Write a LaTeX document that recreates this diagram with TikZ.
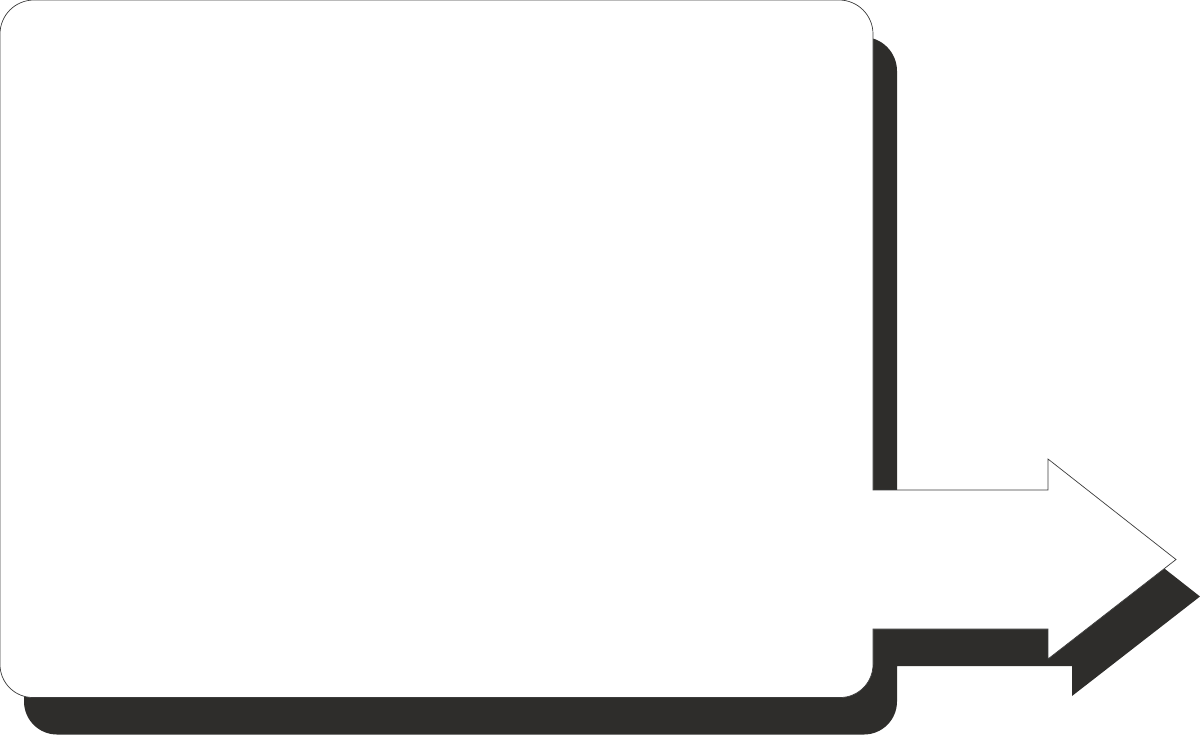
\documentclass[tikz,border=0pt]{standalone}
\definecolor{shadowcol}{RGB}{46,45,43}
\definecolor{edgecol}{RGB}{60,60,60}
\tikzset{
  shadowshape/.style={fill=shadowcol, draw=none},
  mainshape/.style={fill=white, draw=edgecol, line width=0.35pt, line join=miter},
}
\def\arrowshape{%
  [rounded corners=17pt] (0,300) -- (0,0) -- (873,0) -- (873,300)
  [sharp corners] -- (873,490) -- (1048,490) -- (1048,459) -- (1176,559.5)
  -- (1048,659) -- (1048,629) -- (873,629) -- (873,640)
  [rounded corners=16.5pt] -- (873,697.5) -- (0,697.5) -- (0,300) -- cycle}
\begin{document}
\begin{tikzpicture}[x=0.5pt,y=-0.5pt]
\useasboundingbox (0,0) rectangle (1200,735);
\fill[shadowshape, shift={(24,37)}] \arrowshape;
\draw[mainshape] \arrowshape;
\end{tikzpicture}
\end{document}
